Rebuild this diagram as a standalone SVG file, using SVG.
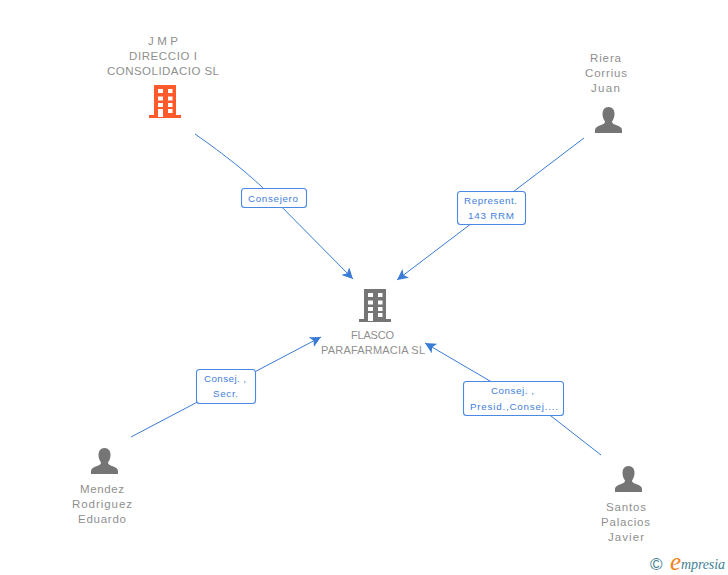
<svg xmlns="http://www.w3.org/2000/svg" width="728" height="575" viewBox="0 0 728 575">
<style>
text{font-family:"Liberation Sans",Arial,sans-serif}
.n{font-size:11.500px;fill:#8f8f8f}
.s{font-size:11px}
.l{font-size:9.800px;fill:#3f80dc}
.c{fill:none;stroke:#3a7bd5;stroke-width:1}
.b{fill:#fff;stroke:#4a88e4;stroke-width:1.100}
.g{fill:#757575}
.o{fill:#ff5a2b}
</style>
<defs>
<marker id="a" viewBox="0 0 10 10" refX="10" refY="5" markerWidth="11" markerHeight="11" orient="auto" markerUnits="userSpaceOnUse"><path d="M0 0L10 5L0 10L2.500 5Z" fill="#3a7bd5"/></marker>
<path id="bld" fill-rule="evenodd" d="M5 0H27V30H32V33H0V30H5ZM9 4V8H14V4ZM19 4V8H23.500V4ZM9 11.500V15.500H14V11.500ZM19 11.500V15.500H23.500V11.500ZM9 18V22H14V18ZM19 18V22H23.500V18ZM9 24V32H14V24ZM19 24V28H23.500V24Z"/>
<path id="per" d="M13.500 0C17.500 0 19.500 3 19.500 7C19.500 10.500 18 13 17 14.500C17 16 18 17 21 18C25 19.500 27 20.500 27 23V26H0V23C0 20.500 2 19.500 6 18C9 17 10 16 10 14.500C9 13 7.500 10.500 7.500 7C7.500 3 9.500 0 13.500 0Z"/>
</defs>
<g id="connectors">
<path class="c" marker-end="url(#a)" d="M195 134C225 155 250 175 265 190L353 279"/>
<path class="c" marker-end="url(#a)" d="M584 138L397 280"/>
<path class="c" marker-end="url(#a)" d="M131 437L321 337"/>
<path class="c" marker-end="url(#a)" d="M601 455L551 416C530 402 510 392 490 381L425 343"/>
</g>
<g id="node-jmp">
<text class="n" x="148" y="45" textLength="30">J M P</text>
<text class="n" x="129" y="60" textLength="68">DIRECCIO I</text>
<text class="n" x="107" y="75" textLength="112">CONSOLIDACIO SL</text>
<use href="#bld" class="o" x="149" y="85"/>
</g>
<g id="node-riera">
<text class="n" x="590" y="62" textLength="31">Riera</text>
<text class="n" x="585" y="77" textLength="42">Corrius</text>
<text class="n" x="591" y="92" textLength="29">Juan</text>
<use href="#per" class="g" x="595" y="107"/>
</g>
<g id="node-flasco">
<use href="#bld" class="g" x="359" y="289"/>
<text class="n s" x="351" y="339" textLength="43">FLASCO</text>
<text class="n s" x="321" y="354" textLength="104">PARAFARMACIA SL</text>
</g>
<g id="node-mendez">
<use href="#per" class="g" x="91" y="448"/>
<text class="n" x="80" y="493" textLength="44">Mendez</text>
<text class="n" x="72" y="508" textLength="60">Rodriguez</text>
<text class="n" x="78" y="523" textLength="48">Eduardo</text>
</g>
<g id="node-santos">
<use href="#per" class="g" x="615" y="466"/>
<text class="n" x="606" y="511" textLength="40">Santos</text>
<text class="n" x="601" y="526" textLength="49">Palacios</text>
<text class="n" x="608" y="541" textLength="36">Javier</text>
</g>
<g id="label-consejero">
<rect class="b" x="241.500" y="188.500" width="65" height="19" rx="3"/>
<text class="l" x="248" y="202" textLength="50">Consejero</text>
</g>
<g id="label-represent">
<rect class="b" x="457.500" y="191.500" width="68" height="33" rx="3"/>
<text class="l" x="464" y="204" textLength="53">Represent.</text>
<text class="l" x="468" y="219" textLength="46">143 RRM</text>
</g>
<g id="label-consej-secr">
<rect class="b" x="196.500" y="369.500" width="59" height="34" rx="3"/>
<text class="l" x="204" y="382" textLength="42">Consej. ,</text>
<text class="l" x="213" y="397" textLength="25">Secr.</text>
</g>
<g id="label-consej-presid">
<rect class="b" x="463.500" y="381.500" width="100" height="34" rx="3"/>
<text class="l" x="491" y="394" textLength="43">Consej. ,</text>
<text class="l" x="470" y="410" textLength="88">Presid.,Consej....</text>
</g>
<g id="logo">
<text x="650" y="570" font-size="17" fill="#3f7f93">©</text>
<text x="670" y="570" font-size="25" font-style="italic" fill="#f58220" style="font-family:'Liberation Serif',serif">e</text>
<text x="681" y="569" font-size="14" font-style="italic" fill="#3f7f93" textLength="44" style="font-family:'Liberation Serif',serif">mpresia</text>
</g>
</svg>
